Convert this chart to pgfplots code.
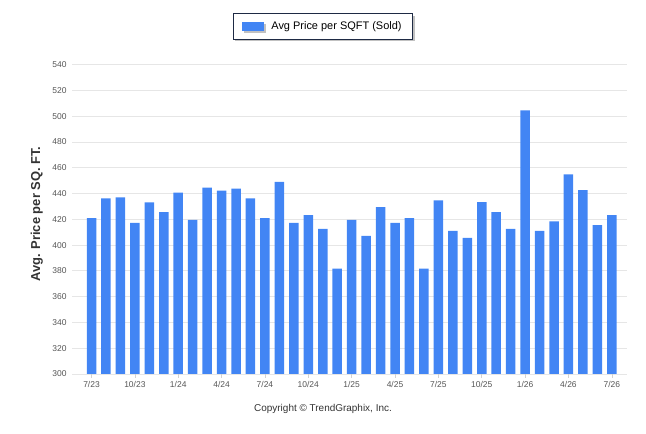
\documentclass[border=0pt]{standalone}
\usepackage{pgfplots}
\pgfplotsset{compat=1.18}
\usepackage{fontspec}
\setmainfont{Liberation Sans}
\usetikzlibrary{shadows}
\definecolor{barblue}{HTML}{4285F4}
\definecolor{ticklab}{HTML}{555555}
\definecolor{gridc}{HTML}{E6E6E6}
\definecolor{legborder}{HTML}{1E2A44}
\definecolor{labc}{HTML}{333333}
\begin{document}
\begin{tikzpicture}
\path[use as bounding box] (0,0) rectangle (646bp,434bp);
\begin{axis}[
  at={(72bp,60bp)}, anchor=south west,
  scale only axis, width=555bp, height=309.3bp,
  ybar, bar width=9.5bp,
  xmin=-1.35, xmax=37.05,
  ymin=300, ymax=540,
  ytick={300,320,...,540},
  xtick={0,3,...,36},
  xticklabels={7/23,10/23,1/24,4/24,7/24,10/24,1/25,4/25,7/25,10/25,1/26,4/26,7/26},
  ymajorgrids, major grid style={gridc, line width=0.8bp},
  axis line style={draw=none},
  ytick style={draw=none},
  xtick pos=left, tick align=outside,
  xtick style={draw=gray!35, line width=0.6bp},
  major tick length=4bp,
  tick label style={font=\fontsize{8.5}{10}\selectfont, text=ticklab},
  yticklabel style={xshift=2bp},
  /pgf/number format/assume math mode=true,
  ylabel={Avg. Price per SQ. FT.},
  ylabel style={at={(axis description cs:-0.0636,0.517)}, anchor=center, font=\bfseries\fontsize{13}{15}\selectfont, text=labc},
  legend style={at={(axis description cs:0.4522,1.1235)}, anchor=center, draw=legborder, line width=0.8bp, fill=white,
    drop shadow={shadow xshift=2bp, shadow yshift=-2bp, fill=gray!60, opacity=0.8},
    font=\fontsize{11}{13}\selectfont, inner xsep=9bp, inner ysep=6bp,
    /tikz/every odd column/.append style={column sep=5bp}},
]
\addplot[fill=barblue, draw=none,
  legend image code/.code={\fill[barblue] (0bp,-4.5bp) rectangle (22bp,4.5bp);}]
coordinates {
(0,421) (1,436.2) (2,437) (3,417.2) (4,433.2) (5,425.6) (6,440.8) (7,419.5) (8,444.6) (9,442.3) (10,443.8) (11,436.2) (12,421)
(13,449.1) (14,417.2) (15,423.3) (16,412.6) (17,381.8) (18,419.5) (19,407.2) (20,429.4) (21,417.2) (22,421) (23,381.8) (24,434.8)
(25,411) (26,405.6) (27,433.3) (28,425.6) (29,412.6) (30,504.6) (31,411) (32,418.5) (33,454.9) (34,442.6) (35,415.6) (36,423.3)
};
\addlegendentry{Avg Price per SQFT (Sold)}
\end{axis}
\node[font=\fontsize{10}{12}\selectfont, text=labc] at (323bp,25bp) {Copyright \textcopyright\ TrendGraphix, Inc.};
\end{tikzpicture}
\end{document}
